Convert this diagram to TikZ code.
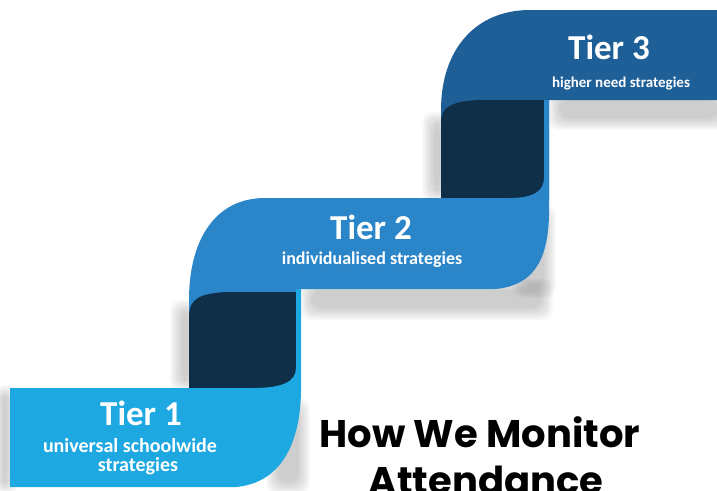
\documentclass[tikz,border=0pt]{standalone}
\usepackage{fontspec}
\setmainfont{Carlito}
\newfontfamily\headfont{Poppins}
\definecolor{tierone}{HTML}{1DA8E2}
\definecolor{tiertwo}{HTML}{2A86C9}
\definecolor{tierthree}{HTML}{1F5F97}
\definecolor{fold}{HTML}{0F2E48}
\begin{document}
\begin{tikzpicture}
  [x=1pt,y=-1pt,
   shadowlayer/.style={fill=black,opacity=.022,rounded corners=10pt},
   tiername/.style={text=white,font=\bfseries\fontsize{35}{35}\selectfont,anchor=base},
   tiernote/.style={text=white,font=\bfseries\fontsize{18}{20}\selectfont,anchor=base},
   heading/.style={font=\headfont\bfseries\fontsize{38.5}{38.5}\selectfont,anchor=base}]
  \useasboundingbox (0,0) rectangle (717,490);
  \clip (0,0) rectangle (717,490);

  % soft shadows behind the ribbon
  \foreach \d in {0,1.5,...,12} {
    \fill[shadowlayer] (300+\d,278+\d) rectangle (553-\d,320-\d);
    \fill[shadowlayer] (548+\d,88+\d) rectangle (730-\d,130-\d);
    \fill[shadowlayer] (170+\d,300+\d) rectangle (200-\d,392-\d);
    \fill[shadowlayer] (422+\d,112+\d) rectangle (452-\d,202-\d);
    \fill[shadowlayer] (-8+\d,385+\d) rectangle (18-\d,494-\d);
    \fill[shadowlayer] (266+\d,398+\d) rectangle (310-\d,494-\d);
    \fill[shadowlayer] (512+\d,205+\d) rectangle (556-\d,298-\d);
  }

  % ribbon, back to front
  \fill[tierthree] (441,200) -- (441,110) .. controls (441,50) and (475,10) .. (530,10)
    -- (717,10) -- (717,100) -- (549,100) -- (549,200) -- cycle;
  \fill[fold] (441,200) -- (441,122) .. controls (441,107) and (452,101) .. (480,100)
    -- (544,100) -- (544,200) -- cycle;
  \fill[tiertwo] (189,390) -- (189,300) .. controls (189,240) and (215,198) .. (265,198)
    -- (510,198) .. controls (535,198) and (544,190) .. (544,178) -- (544,100) -- (549,100)
    -- (549,215) .. controls (548,262) and (532,286) .. (495,289) -- (296,289) -- (296,390) -- cycle;
  \fill[fold] (189,390) -- (189,316) .. controls (189,299) and (200,293) .. (228,292)
    -- (296,292) -- (296,390) -- cycle;
  \fill[tierone] (10,388) -- (253,388) .. controls (282,388) and (296,382) .. (296,368)
    -- (296,289) -- (301,289) -- (301,392) .. controls (300,445) and (280,483) .. (236,487)
    -- (10,487) -- cycle;

  % labels
  \node[tiername] (tier1) at (141,425) {Tier 1};
  \node[tiernote,font=\bfseries\fontsize{20}{20}\selectfont] (note1a) at (130,452) {universal schoolwide};
  \node[tiernote,font=\bfseries\fontsize{20}{20}\selectfont] (note1b) at (138,471) {strategies};
  \node[tiername] (tier2) at (371,239) {Tier 2};
  \node[tiernote] (note2) at (372,264) {individualised strategies};
  \node[tiername] (tier3) at (609,59) {Tier 3};
  \node[tiernote,font=\bfseries\fontsize{15}{18}\selectfont] (note3) at (621,87) {higher need strategies};

  \node[heading] (title1) at (480,447) {How We Monitor};
  \node[heading] (title2) at (486,494) {Attendance};
\end{tikzpicture}
\end{document}
